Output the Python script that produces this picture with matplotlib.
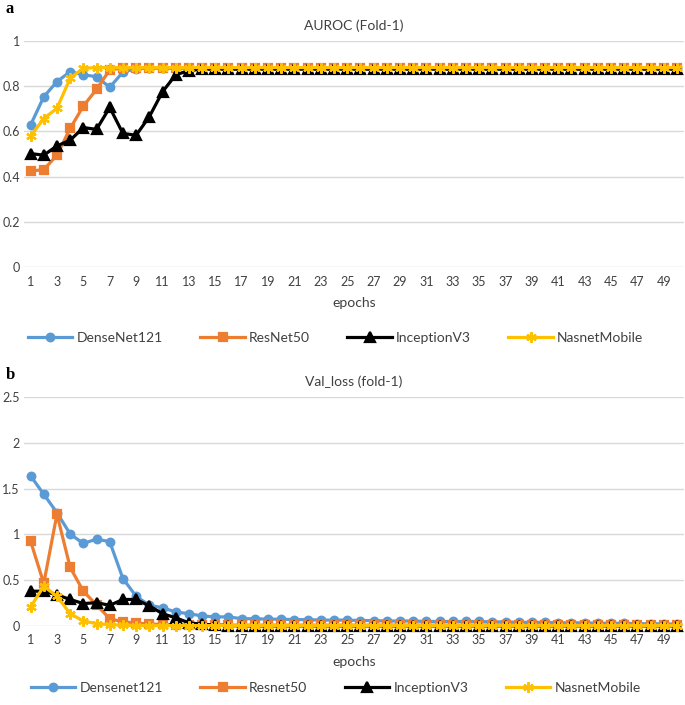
import numpy as np
import matplotlib
matplotlib.use('Agg')
import matplotlib.pyplot as plt

plt.rcParams['font.family'] = ['Lato', 'DejaVu Sans']

epochs = list(range(1, 51))

# AUROC (Fold-1)
auc_dense = [0.628, 0.753, 0.820, 0.864, 0.850, 0.842, 0.795, 0.862, 0.877, 0.880,
             0.880, 0.880, 0.880, 0.880, 0.880, 0.880, 0.880, 0.880, 0.880, 0.880,
             0.880, 0.880, 0.880, 0.880, 0.880, 0.880, 0.880, 0.880, 0.880, 0.880,
             0.880, 0.880, 0.880, 0.880, 0.880, 0.880, 0.880, 0.880, 0.880, 0.880,
             0.880, 0.880, 0.880, 0.880, 0.880, 0.880, 0.880, 0.880, 0.880, 0.880]
auc_res = [0.425, 0.431, 0.495, 0.613, 0.712, 0.786, 0.872, 0.880, 0.880, 0.880,
           0.880, 0.880, 0.880, 0.880, 0.880, 0.880, 0.880, 0.880, 0.880, 0.880,
           0.880, 0.880, 0.880, 0.880, 0.880, 0.880, 0.880, 0.880, 0.880, 0.880,
           0.880, 0.880, 0.880, 0.880, 0.880, 0.880, 0.880, 0.880, 0.880, 0.880,
           0.880, 0.880, 0.880, 0.880, 0.880, 0.880, 0.880, 0.880, 0.880, 0.880]
auc_incep = [0.502, 0.495, 0.536, 0.561, 0.617, 0.609, 0.706, 0.591, 0.583, 0.665,
             0.775, 0.850, 0.869, 0.875, 0.875, 0.875, 0.875, 0.875, 0.875, 0.875,
             0.875, 0.875, 0.875, 0.875, 0.875, 0.875, 0.875, 0.875, 0.875, 0.875,
             0.875, 0.875, 0.875, 0.875, 0.875, 0.875, 0.875, 0.875, 0.875, 0.875,
             0.875, 0.875, 0.875, 0.875, 0.875, 0.875, 0.875, 0.875, 0.875, 0.875]
auc_nas = [0.579, 0.657, 0.702, 0.835, 0.879, 0.882, 0.882, 0.882, 0.882, 0.882,
           0.882, 0.882, 0.882, 0.882, 0.882, 0.882, 0.882, 0.882, 0.882, 0.882,
           0.882, 0.882, 0.882, 0.882, 0.882, 0.882, 0.882, 0.882, 0.882, 0.882,
           0.882, 0.882, 0.882, 0.882, 0.882, 0.882, 0.882, 0.882, 0.882, 0.882,
           0.882, 0.882, 0.882, 0.882, 0.882, 0.882, 0.882, 0.882, 0.882, 0.882]

# Val_loss (fold-1)
loss_dense = [1.639, 1.438, 1.237, 1.004, 0.901, 0.949, 0.920, 0.518, 0.325, 0.226,
              0.200, 0.153, 0.135, 0.110, 0.100, 0.100, 0.080, 0.080, 0.075, 0.075,
              0.070, 0.070, 0.065, 0.065, 0.065, 0.060, 0.060, 0.055, 0.055, 0.055,
              0.050, 0.050, 0.050, 0.050, 0.050, 0.045, 0.045, 0.040, 0.040, 0.040,
              0.035, 0.035, 0.035, 0.030, 0.030, 0.030, 0.025, 0.025, 0.025, 0.020]
loss_res = [0.927, 0.465, 1.220, 0.640, 0.380, 0.230, 0.080, 0.045, 0.035, 0.020,
            0.020, 0.010, 0.010, 0.010, 0.010, 0.010, 0.010, 0.010, 0.010, 0.010,
            0.010, 0.010, 0.010, 0.010, 0.010, 0.010, 0.010, 0.010, 0.010, 0.010,
            0.010, 0.010, 0.010, 0.010, 0.010, 0.010, 0.010, 0.010, 0.010, 0.010,
            0.010, 0.010, 0.010, 0.010, 0.010, 0.010, 0.010, 0.010, 0.010, 0.010]
loss_incep = [0.380, 0.380, 0.340, 0.290, 0.245, 0.255, 0.226, 0.290, 0.290, 0.220,
              0.135, 0.090, 0.035, 0.020, 0.010, 0.005, 0.002, 0.002, 0.002, 0.002,
              0.002, 0.002, 0.002, 0.002, 0.002, 0.002, 0.002, 0.002, 0.002, 0.002,
              0.002, 0.002, 0.002, 0.002, 0.002, 0.002, 0.002, 0.002, 0.002, 0.002,
              0.002, 0.002, 0.002, 0.002, 0.002, 0.002, 0.002, 0.002, 0.002, 0.002]
loss_nas = [0.208, 0.434, 0.325, 0.135, 0.055, 0.026, 0.015, 0.010, 0.005, 0.005,
            0.005, 0.005, 0.005, 0.005, 0.005, 0.005, 0.005, 0.005, 0.005, 0.005,
            0.005, 0.005, 0.005, 0.005, 0.005, 0.005, 0.005, 0.005, 0.005, 0.005,
            0.005, 0.005, 0.005, 0.005, 0.005, 0.005, 0.005, 0.005, 0.005, 0.005,
            0.005, 0.005, 0.005, 0.005, 0.005, 0.005, 0.005, 0.005, 0.005, 0.005]

names_a = ['DenseNet121', 'ResNet50', 'InceptionV3', 'NasnetMobile']
names_b = ['Densenet121', 'Resnet50', 'InceptionV3', 'NasnetMobile']
colores = ['#5B9BD5', '#ED7D31', '#000000', '#FFC000']
marcadores = ['o', 's', '^', (6, 2, 0)]
tamanos = [5.5, 5.5, 6.5, 7.5]

fig = plt.figure(figsize=(6.85, 7.05), dpi=100)
ax1 = fig.add_axes([0.035, 0.621, 0.963, 0.321])
ax2 = fig.add_axes([0.035, 0.112, 0.963, 0.325])

def dibujar(ax, series, nombres, ymax, paso, titulo):
    for y, nom, c, m, s in zip(series, nombres, colores, marcadores, tamanos):
        ax.plot(epochs, y, color=c, lw=2.3, marker=m, ms=s, mec=c, mew=1.6,
                label=nom, clip_on=False)
    ax.set_xlim(0.5, 50.5)
    ax.set_ylim(0, ymax)
    yt = np.arange(0, ymax + paso / 2, paso)
    ax.set_yticks(yt)
    ax.set_yticklabels([f'{v:g}' for v in yt])
    ax.set_xticks(epochs[::2])
    ax.grid(axis='y', color='#d9d9d9', lw=1)
    ax.set_axisbelow(True)
    for sp in ax.spines.values():
        sp.set_visible(False)
    ax.tick_params(length=0, labelsize=9, colors='#404040')
    ax.tick_params(axis='y', pad=3)
    ax.tick_params(axis='x', pad=6)
    ax.set_xlabel('epochs', fontsize=10, color='#404040', labelpad=7)
    ax.set_title(titulo, fontsize=10, color='#404040', pad=8)

dibujar(ax1, [auc_dense, auc_res, auc_incep, auc_nas], names_a, 1.0, 0.2, 'AUROC (Fold-1)')
dibujar(ax2, [loss_dense, loss_res, loss_incep, loss_nas], names_b, 2.5, 0.5, 'Val_loss (fold-1)')

for ax, y in [(ax1, 0.521), (ax2, 0.024)]:
    h, l = ax.get_legend_handles_labels()
    fig.legend(h, l, loc='center', bbox_to_anchor=(0.49, y), ncol=4, frameon=False,
               fontsize=10, handlelength=3.2, columnspacing=2.7, handletextpad=0.3,
               labelcolor='#404040')

fig.text(0.008, 0.982, 'a', fontsize=12, fontweight='bold', family='Liberation Serif')
fig.text(0.008, 0.462, 'b', fontsize=12, fontweight='bold', family='Liberation Serif')

fig.savefig('out.png', dpi=100)
